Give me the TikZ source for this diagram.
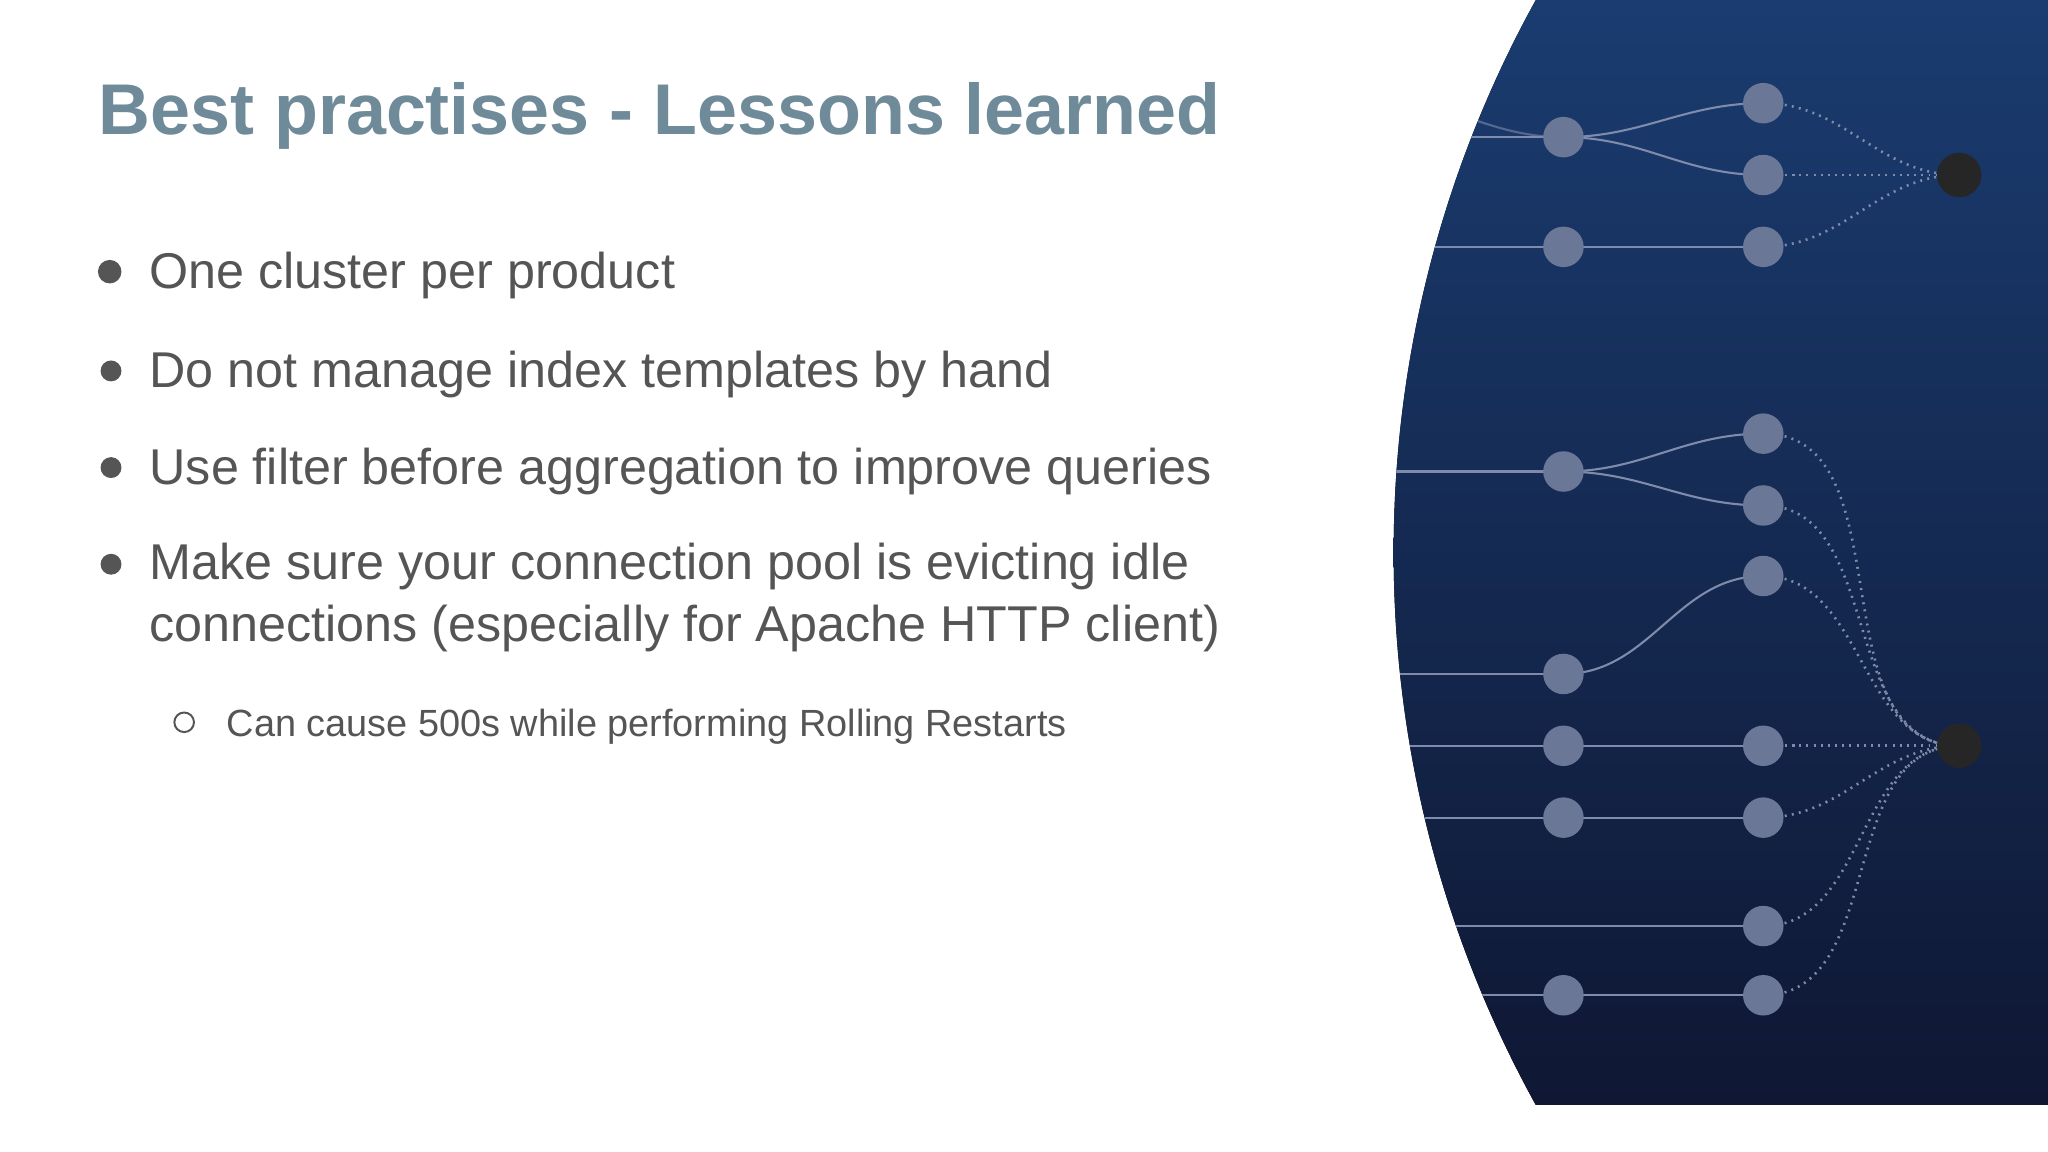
\documentclass[tikz,border=0pt]{standalone}
\usepackage{fontspec}
\setmainfont{Liberation Sans}
\begin{document}
\begin{tikzpicture}[x=1pt,y=-1pt,
  nd/.style={circle,fill=nodecol,inner sep=0pt,minimum size=31pt},
  bk/.style={circle,fill=black!85,inner sep=0pt,minimum size=34pt},
  ln/.style={draw=linecol,line width=1.6pt},
  dt/.style={draw=linecol,line width=2pt,dash pattern=on 1.5pt off 4pt},
  bt/.style={anchor=base west,text=bodycol,font=\fontsize{38.5}{46}\selectfont},
]
\definecolor{nodecol}{HTML}{6B7796}
\definecolor{linecol}{HTML}{7E8BAA}
\definecolor{bodycol}{HTML}{555555}
\definecolor{titlecol}{HTML}{6F8A99}
\definecolor{navyA}{HTML}{1A3C70}
\definecolor{navyB}{HTML}{0F1733}
\useasboundingbox (0,0) rectangle (1568,882);
\fill[white] (0,0) rectangle (1568,882);
% text
\node[anchor=base west,text=titlecol,font=\bfseries\fontsize{55}{66}\selectfont] (title) at (72,103) {Best practises - Lessons learned};
\node[circle,fill=bodycol,inner sep=0pt,minimum size=18pt] (b1) at (84,208) {};
\node[circle,fill=bodycol,inner sep=0pt,minimum size=16pt] (b2) at (85,284) {};
\node[circle,fill=bodycol,inner sep=0pt,minimum size=16pt] (b3) at (85,358) {};
\node[circle,fill=bodycol,inner sep=0pt,minimum size=16pt] (b4) at (85,432) {};
\node[bt] (t1) at (111,221) {One cluster per product};
\node[bt] (t2) at (111,297) {Do not manage index templates by hand};
\node[bt] (t3) at (111,371) {Use filter before aggregation to improve queries};
\node[bt] (t4) at (111,444) {Make sure your connection pool is evicting idle};
\node[bt] (t4b) at (111,491) {connections (especially for Apache HTTP client)};
\node[circle,draw=bodycol,line width=1.5pt,inner sep=0pt,minimum size=15pt] (b5) at (141,553) {};
\node[anchor=base west,text=bodycol,font=\fontsize{29}{34}\selectfont] (t5) at (170,564) {Can cause 500s while performing Rolling Restarts};
% graph coordinates
\foreach \n/\y in {a/105,b/189,c/361,d/516,e/571,f/626,g/762}
  \coordinate (L\n) at (1050,\y);
\coordinate (La2) at (1050,75);
\coordinate (Lh) at (1050,709);
\foreach \n/\y in {a/105,b/189,c/361,d/516,e/571,f/626,g/762}
  \coordinate (p\n) at (1197,\y);
\foreach \n/\y in {1/79,2/134,3/189,4/332,5/387,6/441,7/571,8/626,9/709,10/762}
  \coordinate (q\n) at (1350,\y);
\coordinate (k1) at (1500,134);
\coordinate (k2) at (1500,571);
\begin{scope}
\clip (1942,423) circle[radius=875];
\fill[top color=navyA,bottom color=navyB] (1000,0) rectangle (1568,846);
\path[ln] (La) -- (pa); \path[ln,opacity=.6] (La2) to[out=0,in=180] (pa);
\path[ln] (Lb) -- (pb) -- (q3);
\path[ln] (Lc) -- (pc); \path[ln] (Ld) -- (pd);
\path[ln] (Le) -- (pe) -- (q7);
\path[ln] (Lf) -- (pf) -- (q8);
\path[ln] (Lg) -- (pg) -- (q10);
\path[ln] (Lh) -- (q9);
\end{scope}
\fill[white] (1000,846) rectangle (1568,882);
\path[ln] (pa) to[out=0,in=180] (q1);
\path[ln] (pa) to[out=0,in=180] (q2);
\path[ln] (pc) to[out=0,in=180] (q4);
\path[ln] (pc) to[out=0,in=180] (q5);
\path[ln] (pd) to[out=0,in=180] (q6);
\foreach \q in {1,2,3} \path[dt] (q\q) to[out=0,in=180] (k1);
\foreach \q in {4,5,6,7,8,9,10} \path[dt] (q\q) to[out=0,in=180] (k2);
\foreach \n/\y in {a/105,b/189,c/361,d/516,e/571,f/626,g/762}
  \node[nd] (n\n) at (1197,\y) {};
\foreach \n/\y in {1/79,2/134,3/189,4/332,5/387,6/441,7/571,8/626,9/709,10/762}
  \node[nd] (m\n) at (1350,\y) {};
\node[bk] (kk1) at (k1) {};
\node[bk] (kk2) at (k2) {};
\end{tikzpicture}
\end{document}
